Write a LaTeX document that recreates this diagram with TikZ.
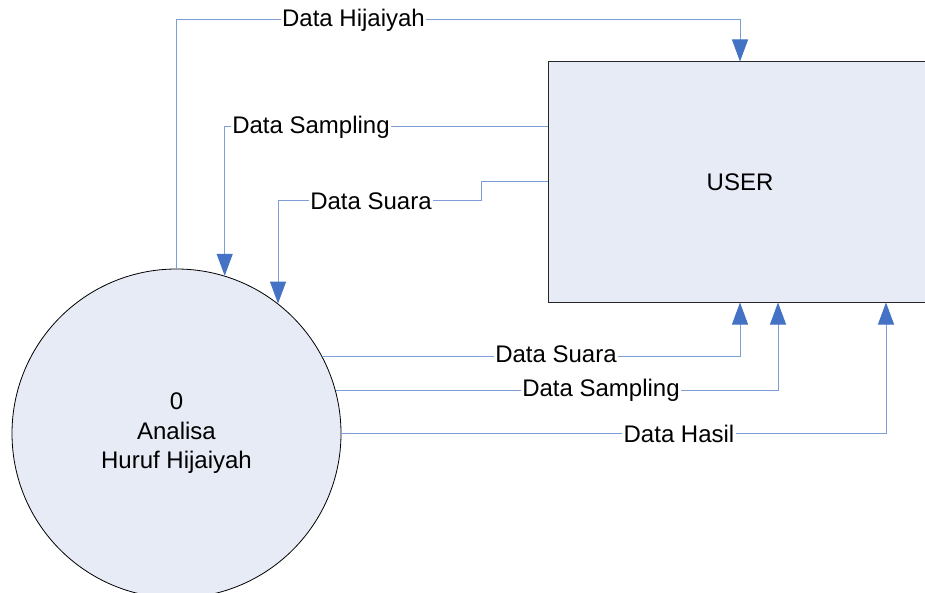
\documentclass[tikz,border=0pt]{standalone}
\usepackage{fontspec}
\setmainfont{Liberation Sans}
\usetikzlibrary{arrows.meta}
\definecolor{lineblue}{HTML}{7C9DD6}
\definecolor{arrowblue}{HTML}{4472C4}
\definecolor{shapefill}{HTML}{E7EBF5}
\begin{document}
\begin{tikzpicture}[x=1pt,y=-1pt,
  every node/.style={font=\fontsize{24}{29.5}\selectfont},
  flow/.style={draw=lineblue,line width=1pt,-{Triangle[length=22pt,width=16pt,color=arrowblue,fill=arrowblue]}},
  lbl/.style={fill=white,inner xsep=1.5pt,inner ysep=1pt},
  proc/.style={circle,draw=black,line width=0.8pt,fill=shapefill,minimum size=329pt,align=center,inner sep=0pt},
  ent/.style={rectangle,draw=black!85,line width=1pt,fill=shapefill,minimum width=384pt,minimum height=240pt,inner sep=0pt}]
\useasboundingbox (0,0) rectangle (925,593);
\node[proc] (proc) at (176.5,433.5) {0\\Analisa\\Huruf Hijaiyah};
\node[ent] (user) at (740,182) {USER};
\coordinate (top) at (0,20);
\coordinate (sj) at (481,201);
% top flows
\draw[flow] (proc.north) |- (user.north |- top) -- (user.north);
\draw[flow] ([yshift=55pt]user.west) -| (proc.73.2);
\draw[flow] (user.west) -| (sj) -| (proc.52.3);
% bottom flows
\draw[flow] (proc.28.9) -| (user.south);
\draw[flow] (proc.15.33) -| ([xshift=38pt]user.south);
\draw[flow] (proc.east) -| ([xshift=146pt]user.south);
% labels
\node[lbl] (l1) at (353.5,20) {Data Hijaiyah};
\node[lbl] (l2) at (311,127) {Data Sampling};
\node[lbl] (l3) at (371,201) {Data Suara};
\node[lbl] (l4) at (556,354) {Data Suara};
\node[lbl] (l5) at (601,390) {Data Sampling};
\node[lbl] (l6) at (679,433.5) {Data Hasil};
\end{tikzpicture}
\end{document}
